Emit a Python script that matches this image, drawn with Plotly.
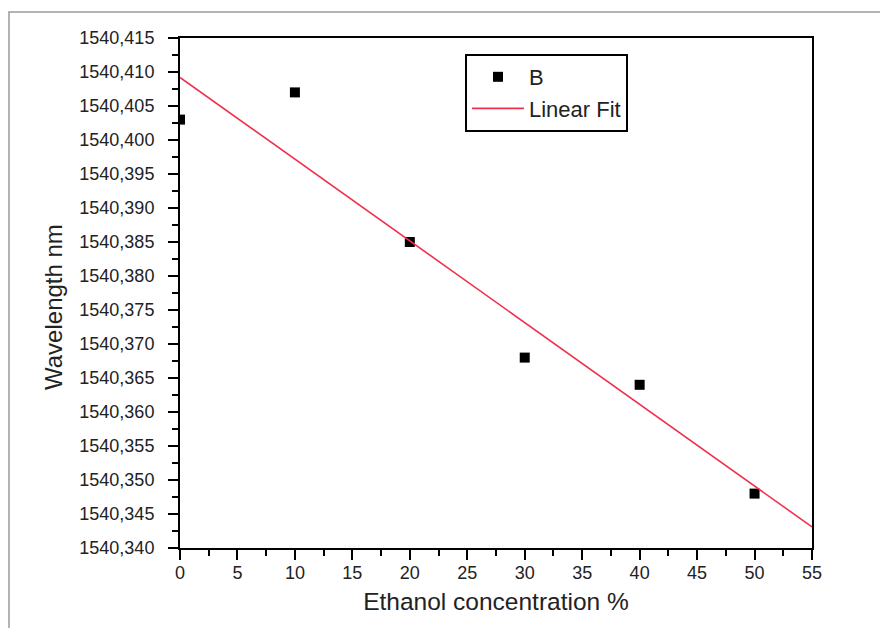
import plotly.graph_objects as go

# Data
conc = [0, 10, 20, 30, 40, 50]
wavelength = [1540.403, 1540.407, 1540.385, 1540.368, 1540.364, 1540.348]
fit_x = [0, 55]
fit_y = [1540.4092, 1540.3431]

x_tick_vals = [0, 5, 10, 15, 20, 25, 30, 35, 40, 45, 50, 55]
x_tick_labels = [str(v) for v in x_tick_vals]
y_tick_vals = [1540.340, 1540.345, 1540.350, 1540.355, 1540.360, 1540.365, 1540.370,
               1540.375, 1540.380, 1540.385, 1540.390, 1540.395, 1540.400, 1540.405,
               1540.410, 1540.415]
y_tick_labels = ["1540,340", "1540,345", "1540,350", "1540,355", "1540,360", "1540,365",
                 "1540,370", "1540,375", "1540,380", "1540,385", "1540,390", "1540,395",
                 "1540,400", "1540,405", "1540,410", "1540,415"]

FONT = "Liberation Sans, Arial, sans-serif"

# page body has an 8px margin, so figure coordinates = screen - 8
OFF = 8
W, H = 872, 620
PL, PR, PT, PB = 180 - OFF, 812 - OFF, 38 - OFF, 548 - OFF   # plot area in figure px
L, R, T, B = PL, W - PR, PT, H - PB
pw, ph = PR - PL, PB - PT

def px_x(sx):
    return (sx - OFF - PL) / pw

def px_y(sy):
    return (PB - (sy - OFF)) / ph

fig = go.Figure()
fig.add_trace(go.Scatter(
    x=conc, y=wavelength, mode="markers", name="B",
    marker=dict(symbol="square", size=10, color="black"),
))
fig.add_trace(go.Scatter(
    x=fit_x, y=fit_y, mode="lines", name="Linear Fit",
    line=dict(color="#f0304a", width=1.6),
))

axis_common = dict(
    showline=True, linecolor="black", linewidth=2, mirror=True,
    ticks="outside", ticklen=10, tickwidth=2, tickcolor="black",
    showgrid=False, zeroline=False,
    tickfont=dict(family=FONT, size=18, color="#222"),
)

fig.update_xaxes(
    range=[0, 55], tickvals=x_tick_vals, ticktext=x_tick_labels,
    minor=dict(ticks="outside", ticklen=6, tickwidth=2, tickcolor="black", dtick=2.5, tick0=0),
    title=dict(text="Ethanol concentration %", font=dict(family=FONT, size=24.5, color="#222"), standoff=11),
    ticklabelstandoff=-3,
    **axis_common,
)
fig.update_yaxes(
    range=[1540.340, 1540.415], tickvals=y_tick_vals, ticktext=y_tick_labels,
    minor=dict(ticks="outside", ticklen=6, tickwidth=2, tickcolor="black", dtick=0.0025, tick0=1540.340),
    ticklabelstandoff=10,
    **axis_common,
)

# y-axis title (placed as annotation to match its offset position)
fig.add_annotation(
    text="Wavelength nm", textangle=-90, showarrow=False,
    xref="paper", yref="paper", x=px_x(53), y=px_y(307),
    xanchor="center", yanchor="middle",
    font=dict(family=FONT, size=24, color="#222"),
)

# outer grey frame of the figure image
fig.add_shape(
    type="rect", xref="paper", yref="paper",
    x0=px_x(9), x1=px_x(900),
    y0=px_y(650), y1=px_y(12),
    line=dict(color="#9a9a9a", width=1.5), fillcolor="rgba(0,0,0,0)", layer="below",
)

fig.update_layout(
    width=W, height=H,
    margin=dict(l=L, r=R, t=T, b=B, autoexpand=False),
    paper_bgcolor="white", plot_bgcolor="white",
    font=dict(family=FONT, color="#222"),
    legend=dict(
        x=px_x(465), y=px_y(54), xanchor="left", yanchor="top",
        bordercolor="black", borderwidth=2, bgcolor="white",
        font=dict(family=FONT, size=22, color="#222"),
        itemwidth=52, tracegroupgap=0,
        entrywidth=100, entrywidthmode="pixels",
    ),
    showlegend=True,
)

fig.write_html("out.html")
